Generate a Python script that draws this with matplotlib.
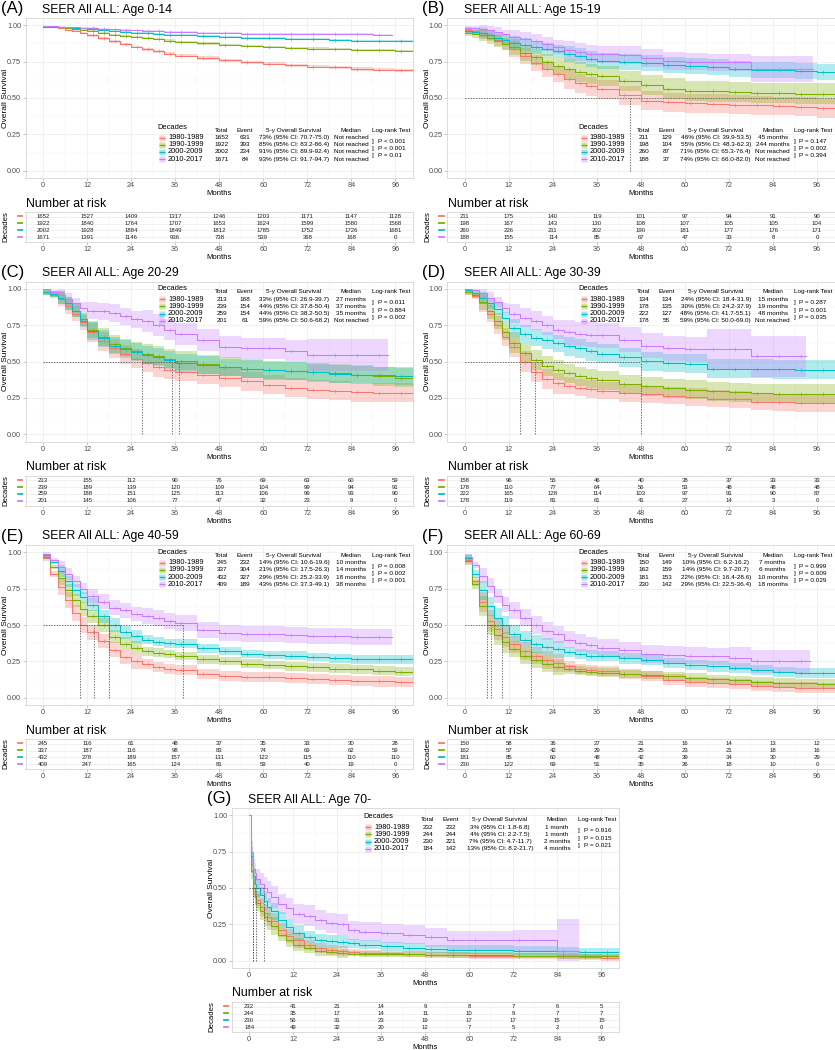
import numpy as np
import matplotlib
matplotlib.use("Agg")
import matplotlib.pyplot as plt
from matplotlib import transforms as mtrans

plt.rcParams['font.family'] = ['Liberation Sans', 'DejaVu Sans']

nan = float('nan')
DECADES = ["1980-1989", "1990-1999", "2000-2009", "2010-2017"]
COLORS = ["#F8766D", "#7CAE00", "#00BFC4", "#C77CFF"]
RISK_TIMES = [0, 12, 24, 36, 48, 60, 72, 84, 96]

T = [0, 2, 4, 6, 8, 10, 12, 15, 18, 21, 24, 27, 30, 33, 36, 42, 48, 54, 60, 66, 72, 78, 84, 90, 96, 101]
TG = [0, 0.5, 1, 1.5, 2, 3, 4, 5, 6, 8, 10, 12, 15, 18, 21, 24, 27, 30, 36, 42, 48, 54, 60, 72, 84, 90, 96, 101]

# ---------------- Panel A: Age 0-14 ----------------
A_s80 = [0.99, 0.985, 0.978, 0.97, 0.96, 0.945, 0.93, 0.91, 0.89, 0.87, 0.85, 0.835, 0.82, 0.805, 0.79, 0.775, 0.76, 0.745, 0.735, 0.725, 0.715, 0.71, 0.70, 0.695, 0.69, 0.685]
A_s90 = [0.99, 0.988, 0.985, 0.98, 0.975, 0.968, 0.96, 0.948, 0.935, 0.928, 0.92, 0.912, 0.905, 0.895, 0.885, 0.875, 0.865, 0.858, 0.85, 0.845, 0.84, 0.835, 0.83, 0.828, 0.825, 0.82]
A_s00 = [0.99, 0.989, 0.987, 0.985, 0.982, 0.978, 0.975, 0.968, 0.962, 0.956, 0.95, 0.945, 0.94, 0.935, 0.93, 0.925, 0.92, 0.915, 0.912, 0.908, 0.905, 0.90, 0.895, 0.892, 0.89, 0.888]
A_s10 = [0.995, 0.993, 0.99, 0.988, 0.985, 0.982, 0.98, 0.976, 0.972, 0.968, 0.965, 0.962, 0.96, 0.957, 0.955, 0.95, 0.945, 0.943, 0.942, 0.941, 0.94, 0.939, 0.937, 0.936, nan, nan]
A_c80 = [0.003] * 2 + [0.006] * 4 + [0.009] * 5 + [0.011] * 15
A_c90 = [0.003] * 2 + [0.005] * 4 + [0.007] * 5 + [0.008] * 15
A_c00 = [0.002] * 2 + [0.004] * 4 + [0.005] * 5 + [0.007] * 15
A_c10 = [0.002] * 2 + [0.003] * 4 + [0.005] * 5 + [0.007] * 15
A_end = [101, 101, 101, 95]
A_median = [nan, nan, nan, nan]
A_risk80 = [1652, 1527, 1409, 1317, 1246, 1203, 1171, 1147, 1128]
A_risk90 = [1922, 1840, 1764, 1707, 1653, 1624, 1599, 1580, 1568]
A_risk00 = [2002, 1928, 1884, 1849, 1812, 1785, 1752, 1726, 1681]
A_risk10 = [1671, 1391, 1146, 936, 738, 539, 368, 168, 0]
A_total = [1652, 1922, 2002, 1671]
A_event = [631, 393, 234, 84]
A_os5 = ["73% (95% CI: 70.7-75.0)", "85% (95% CI: 83.2-86.4)", "91% (95% CI: 89.9-92.4)", "93% (95% CI: 91.7-94.7)"]
A_medtxt = ["Not reached", "Not reached", "Not reached", "Not reached"]
A_p = ["P < 0.001", "P < 0.001", "P = 0.01"]

# ---------------- Panel B: Age 15-19 ----------------
B_s80 = [0.97, 0.96, 0.945, 0.93, 0.90, 0.87, 0.84, 0.79, 0.74, 0.70, 0.665, 0.63, 0.60, 0.58, 0.56, 0.52, 0.48, 0.47, 0.465, 0.46, 0.455, 0.45, 0.445, 0.44, 0.43, 0.42]
B_s90 = [0.95, 0.94, 0.93, 0.91, 0.89, 0.87, 0.85, 0.81, 0.78, 0.75, 0.72, 0.70, 0.68, 0.665, 0.65, 0.615, 0.59, 0.565, 0.55, 0.545, 0.54, 0.535, 0.535, 0.53, 0.53, 0.53]
B_s00 = [0.96, 0.955, 0.945, 0.93, 0.915, 0.90, 0.88, 0.865, 0.85, 0.835, 0.82, 0.805, 0.79, 0.77, 0.755, 0.75, 0.74, 0.725, 0.72, 0.71, 0.70, 0.695, 0.69, 0.685, 0.68, 0.675]
B_s10 = [0.98, 0.978, 0.975, 0.965, 0.955, 0.94, 0.92, 0.905, 0.89, 0.87, 0.85, 0.83, 0.815, 0.805, 0.80, 0.795, 0.775, 0.755, 0.75, 0.745, 0.745, 0.70, 0.70, 0.70, nan, nan]
B_c80 = [0.02] * 2 + [0.04] * 4 + [0.055] * 5 + [0.065] * 15
B_c90 = [0.025] * 2 + [0.04] * 4 + [0.055] * 5 + [0.07] * 15
B_c00 = [0.015] * 2 + [0.03] * 4 + [0.045] * 5 + [0.055] * 15
B_c10 = [0.015] * 2 + [0.03] * 4 + [0.05] * 5 + [0.06] * 10 + [0.09] * 5
B_end = [101, 101, 101, 95]
B_median = [45, 244, nan, nan]
B_risk80 = [211, 175, 140, 119, 101, 97, 94, 91, 90]
B_risk90 = [198, 167, 143, 130, 108, 107, 105, 105, 104]
B_risk00 = [260, 226, 211, 202, 190, 181, 177, 176, 171]
B_risk10 = [188, 155, 114, 85, 67, 47, 33, 8, 0]
B_total = [211, 198, 260, 188]
B_event = [129, 104, 87, 37]
B_os5 = ["46% (95% CI: 39.9-53.5)", "55% (95% CI: 48.3-62.3)", "71% (95% CI: 65.3-76.4)", "74% (95% CI: 66.0-82.0)"]
B_medtxt = ["45 months", "244 months", "Not reached", "Not reached"]
B_p = ["P = 0.147", "P = 0.002", "P = 0.394"]

# ---------------- Panel C: Age 20-29 ----------------
C_s80 = [0.98, 0.96, 0.93, 0.88, 0.83, 0.77, 0.70, 0.64, 0.59, 0.55, 0.52, 0.49, 0.46, 0.445, 0.43, 0.41, 0.39, 0.365, 0.34, 0.32, 0.307, 0.30, 0.29, 0.285, 0.285, 0.28]
C_s90 = [0.98, 0.965, 0.94, 0.90, 0.85, 0.79, 0.72, 0.67, 0.62, 0.595, 0.575, 0.555, 0.54, 0.52, 0.505, 0.48, 0.465, 0.45, 0.44, 0.435, 0.425, 0.42, 0.41, 0.40, 0.39, 0.38]
C_s00 = [0.98, 0.965, 0.94, 0.90, 0.85, 0.78, 0.71, 0.66, 0.61, 0.585, 0.565, 0.545, 0.53, 0.51, 0.49, 0.475, 0.46, 0.45, 0.44, 0.435, 0.425, 0.415, 0.41, 0.405, 0.40, 0.40]
C_s10 = [1.0, 0.98, 0.96, 0.93, 0.90, 0.87, 0.85, 0.845, 0.835, 0.81, 0.79, 0.78, 0.75, 0.72, 0.69, 0.65, 0.60, 0.59, 0.59, 0.575, 0.545, 0.545, 0.545, 0.545, nan, nan]
C_c80 = [0.02] * 2 + [0.05] * 4 + [0.065] * 20
C_c90 = [0.02] * 2 + [0.045] * 4 + [0.06] * 5 + [0.065] * 15
C_c00 = [0.02] * 2 + [0.045] * 4 + [0.06] * 20
C_c10 = [0.01] * 2 + [0.04] * 4 + [0.06] * 5 + [0.075] * 9 + [0.11] * 6
C_end = [101, 101, 101, 94]
C_median = [27, 37, 35, nan]
C_risk80 = [213, 155, 112, 90, 76, 69, 63, 60, 59]
C_risk90 = [239, 189, 139, 120, 109, 104, 99, 94, 91]
C_risk00 = [259, 188, 151, 125, 113, 106, 99, 93, 90]
C_risk10 = [201, 145, 106, 77, 47, 32, 23, 9, 0]
C_total = [213, 239, 259, 201]
C_event = [168, 154, 154, 61]
C_os5 = ["33% (95% CI: 26.9-39.7)", "44% (95% CI: 37.8-50.4)", "44% (95% CI: 38.2-50.5)", "59% (95% CI: 50.6-68.2)"]
C_medtxt = ["27 months", "37 months", "35 months", "Not reached"]
C_p = ["P = 0.011", "P = 0.884", "P = 0.002"]

# ---------------- Panel D: Age 30-39 ----------------
D_s80 = [0.98, 0.95, 0.90, 0.83, 0.75, 0.67, 0.60, 0.50, 0.43, 0.38, 0.35, 0.335, 0.32, 0.31, 0.30, 0.285, 0.275, 0.265, 0.255, 0.245, 0.24, 0.225, 0.22, 0.215, 0.215, 0.21]
D_s90 = [0.98, 0.955, 0.91, 0.85, 0.78, 0.70, 0.63, 0.56, 0.51, 0.47, 0.44, 0.42, 0.40, 0.385, 0.37, 0.345, 0.33, 0.315, 0.305, 0.295, 0.289, 0.282, 0.278, 0.277, 0.277, 0.275]
D_s00 = [0.99, 0.97, 0.94, 0.90, 0.86, 0.80, 0.73, 0.69, 0.665, 0.645, 0.625, 0.605, 0.59, 0.57, 0.555, 0.53, 0.503, 0.49, 0.485, 0.45, 0.45, 0.45, 0.447, 0.445, 0.443, 0.44]
D_s10 = [1.0, 0.99, 0.97, 0.94, 0.91, 0.87, 0.83, 0.80, 0.78, 0.75, 0.72, 0.70, 0.69, 0.685, 0.68, 0.65, 0.61, 0.59, 0.585, 0.585, 0.585, 0.535, 0.535, 0.535, nan, nan]
D_c80 = [0.02] * 2 + [0.06] * 4 + [0.07] * 5 + [0.06] * 15
D_c90 = [0.02] * 2 + [0.055] * 4 + [0.07] * 5 + [0.065] * 15
D_c00 = [0.015] * 2 + [0.04] * 4 + [0.06] * 5 + [0.065] * 15
D_c10 = [0.01] * 2 + [0.035] * 4 + [0.065] * 5 + [0.085] * 8 + [0.14] * 7
D_end = [101, 101, 101, 93]
D_median = [15, 19, 48, nan]
D_risk80 = [158, 96, 55, 46, 40, 38, 37, 33, 33]
D_risk90 = [178, 110, 77, 64, 56, 53, 48, 48, 48]
D_risk00 = [222, 165, 128, 114, 103, 97, 91, 90, 87]
D_risk10 = [178, 119, 81, 61, 41, 27, 14, 3, 0]
D_total = [134, 178, 222, 178]
D_event = [134, 135, 127, 55]
D_os5 = ["24% (95% CI: 18.4-31.9)", "30% (95% CI: 24.2-37.9)", "48% (95% CI: 41.7-55.1)", "59% (95% CI: 50.0-69.0)"]
D_medtxt = ["15 months", "19 months", "48 months", "Not reached"]
D_p = ["P = 0.287", "P = 0.001", "P = 0.035"]

# ---------------- Panel E: Age 40-59 ----------------
E_s80 = [0.96, 0.85, 0.76, 0.67, 0.58, 0.50, 0.45, 0.39, 0.33, 0.28, 0.25, 0.23, 0.21, 0.195, 0.188, 0.165, 0.15, 0.145, 0.142, 0.135, 0.127, 0.12, 0.115, 0.112, 0.108, 0.105]
E_s90 = [0.97, 0.90, 0.82, 0.74, 0.67, 0.61, 0.56, 0.50, 0.42, 0.37, 0.344, 0.32, 0.31, 0.30, 0.287, 0.265, 0.252, 0.235, 0.225, 0.215, 0.21, 0.20, 0.195, 0.185, 0.179, 0.172]
E_s00 = [0.98, 0.93, 0.87, 0.80, 0.74, 0.69, 0.64, 0.56, 0.50, 0.45, 0.424, 0.40, 0.385, 0.375, 0.372, 0.34, 0.321, 0.30, 0.294, 0.288, 0.28, 0.27, 0.264, 0.264, 0.264, 0.264]
E_s10 = [0.99, 0.95, 0.90, 0.85, 0.80, 0.75, 0.70, 0.66, 0.62, 0.60, 0.575, 0.56, 0.545, 0.525, 0.511, 0.465, 0.447, 0.44, 0.436, 0.43, 0.424, 0.422, 0.42, 0.42, nan, nan]
E_c80 = [0.02] * 2 + [0.055] * 4 + [0.05] * 5 + [0.035] * 15
E_c90 = [0.015] * 2 + [0.045] * 4 + [0.045] * 5 + [0.03] * 15
E_c00 = [0.01] * 2 + [0.04] * 4 + [0.045] * 5 + [0.03] * 15
E_c10 = [0.01] * 2 + [0.04] * 4 + [0.05] * 5 + [0.055] * 15
E_end = [101, 101, 101, 95]
E_median = [10, 14, 18, 38]
E_risk80 = [245, 116, 61, 48, 37, 35, 33, 30, 28]
E_risk90 = [337, 187, 116, 98, 83, 74, 69, 62, 59]
E_risk00 = [432, 278, 189, 157, 131, 122, 115, 110, 110]
E_risk10 = [409, 247, 165, 124, 81, 59, 40, 19, 0]
E_total = [245, 337, 432, 409]
E_event = [232, 304, 327, 189]
E_os5 = ["14% (95% CI: 10.6-19.6)", "21% (95% CI: 17.5-26.3)", "29% (95% CI: 25.2-33.9)", "43% (95% CI: 37.3-49.1)"]
E_medtxt = ["10 months", "14 months", "18 months", "38 months"]
E_p = ["P = 0.008", "P = 0.002", "P < 0.001"]

# ---------------- Panel F: Age 60-69 ----------------
F_s80 = [0.95, 0.80, 0.66, 0.53, 0.47, 0.42, 0.367, 0.32, 0.29, 0.26, 0.24, 0.215, 0.20, 0.19, 0.183, 0.165, 0.149, 0.125, 0.108, 0.10, 0.092, 0.082, 0.073, 0.07, 0.069, 0.068]
F_s90 = [0.94, 0.78, 0.63, 0.50, 0.43, 0.38, 0.333, 0.29, 0.26, 0.23, 0.211, 0.195, 0.185, 0.178, 0.172, 0.164, 0.156, 0.147, 0.138, 0.128, 0.119, 0.11, 0.103, 0.099, 0.096, 0.087]
F_s00 = [0.96, 0.85, 0.74, 0.63, 0.55, 0.50, 0.44, 0.40, 0.37, 0.35, 0.333, 0.315, 0.30, 0.29, 0.285, 0.27, 0.257, 0.24, 0.225, 0.215, 0.202, 0.19, 0.179, 0.172, 0.17, 0.17]
F_s10 = [0.97, 0.91, 0.84, 0.77, 0.70, 0.64, 0.60, 0.55, 0.50, 0.46, 0.436, 0.40, 0.375, 0.36, 0.345, 0.325, 0.30, 0.295, 0.29, 0.285, 0.27, 0.25, 0.25, 0.25, nan, nan]
F_c80 = [0.03] * 2 + [0.07] * 4 + [0.06] * 5 + [0.035] * 15
F_c90 = [0.03] * 2 + [0.07] * 4 + [0.055] * 5 + [0.03] * 15
F_c00 = [0.025] * 2 + [0.065] * 4 + [0.06] * 5 + [0.035] * 15
F_c10 = [0.02] * 2 + [0.05] * 4 + [0.06] * 5 + [0.06] * 9 + [0.08] * 6
F_end = [101, 101, 101, 94]
F_median = [7, 6, 10, 18]
F_risk80 = [150, 58, 36, 27, 21, 16, 14, 13, 12]
F_risk90 = [162, 57, 42, 29, 25, 23, 21, 18, 16]
F_risk00 = [181, 85, 60, 48, 42, 39, 34, 30, 29]
F_risk10 = [230, 122, 69, 51, 35, 26, 18, 10, 0]
F_total = [150, 162, 181, 230]
F_event = [149, 159, 153, 142]
F_os5 = ["10% (95% CI: 6.2-16.2)", "14% (95% CI: 9.7-20.7)", "22% (95% CI: 16.4-28.6)", "29% (95% CI: 22.5-36.4)"]
F_medtxt = ["7 months", "6 months", "10 months", "18 months"]
F_p = ["P = 0.999", "P = 0.009", "P = 0.029"]

# ---------------- Panel G: Age 70- ----------------
G_s80 = [1.0, 0.66, 0.50, 0.45, 0.42, 0.37, 0.33, 0.30, 0.27, 0.21, 0.17, 0.14, 0.11, 0.085, 0.075, 0.065, 0.06, 0.055, 0.05, 0.045, 0.04, 0.04, 0.035, 0.03, 0.03, 0.025, 0.02, 0.02]
G_s90 = [1.0, 0.62, 0.50, 0.44, 0.40, 0.34, 0.30, 0.27, 0.24, 0.18, 0.14, 0.11, 0.085, 0.065, 0.06, 0.05, 0.048, 0.046, 0.045, 0.043, 0.042, 0.04, 0.04, 0.035, 0.03, 0.03, 0.03, 0.03]
G_s00 = [1.0, 0.72, 0.58, 0.53, 0.50, 0.45, 0.41, 0.37, 0.34, 0.28, 0.23, 0.19, 0.16, 0.14, 0.135, 0.13, 0.12, 0.11, 0.10, 0.09, 0.08, 0.075, 0.075, 0.07, 0.065, 0.06, 0.06, 0.06]
G_s10 = [1.0, 0.75, 0.63, 0.60, 0.56, 0.53, 0.50, 0.47, 0.44, 0.39, 0.36, 0.32, 0.31, 0.28, 0.26, 0.25, 0.21, 0.20, 0.19, 0.18, 0.16, 0.14, 0.14, 0.14, 0.07, nan, nan, nan]
G_c80 = [0.0] + [0.06] * 8 + [0.05] * 3 + [0.035] * 4 + [0.02] * 12
G_c90 = [0.0] + [0.06] * 8 + [0.045] * 3 + [0.03] * 4 + [0.018] * 12
G_c00 = [0.0] + [0.06] * 8 + [0.055] * 3 + [0.045] * 4 + [0.03] * 12
G_c10 = [0.0] + [0.07] * 4 + [0.075] * 4 + [0.07] * 7 + [0.065] * 7 + [0.07] + [0.22] * 4
G_end = [101, 101, 101, 90]
G_median = [1, 1, 2, 4]
G_risk80 = [232, 41, 21, 14, 9, 8, 7, 6, 5]
G_risk90 = [244, 35, 17, 14, 11, 10, 9, 7, 7]
G_risk00 = [230, 56, 31, 23, 19, 17, 17, 15, 15]
G_risk10 = [184, 49, 32, 20, 12, 7, 5, 2, 0]
G_total = [232, 244, 230, 184]
G_event = [232, 244, 221, 142]
G_os5 = ["3% (95% CI: 1.8-6.8)", "4% (95% CI: 2.2-7.5)", "7% (95% CI: 4.7-11.7)", "13% (95% CI: 8.2-21.7)"]
G_medtxt = ["1 month", "1 month", "2 months", "4 months"]
G_p = ["P = 0.916", "P = 0.015", "P = 0.021"]

TITLES = ["SEER All ALL: Age 0-14", "SEER All ALL: Age 15-19", "SEER All ALL: Age 20-29",
          "SEER All ALL: Age 30-39", "SEER All ALL: Age 40-59", "SEER All ALL: Age 60-69",
          "SEER All ALL: Age 70-"]
LETTERS = ["(A)", "(B)", "(C)", "(D)", "(E)", "(F)", "(G)"]

# ---------------------------------------------------------------
W, H = 835, 1050
fig = plt.figure(figsize=(W / 100, H / 100), dpi=100)
fig.patch.set_facecolor('white')
AXW = 387.5
TICKC = '#4D4D4D'
XT_MIN = [6, 18, 30, 42, 54, 66, 78, 90]


def style(ax):
    for sp in ax.spines.values():
        sp.set_color('#D6D6D6')
        sp.set_linewidth(0.6)
    ax.tick_params(which='major', length=2, width=0.5, color='#B0B0B0',
                   labelsize=5.2, labelcolor=TICKC, pad=1.2)
    ax.tick_params(which='minor', length=0)
    ax.grid(which='major', color='#EBEBEB', lw=0.5)
    ax.grid(which='minor', color='#F5F5F5', lw=0.35)
    ax.set_axisbelow(True)


def otr(ax, dx, dy):
    base = mtrans.blended_transform_factory(ax.transAxes, ax.transData)
    return base + mtrans.ScaledTranslation(dx / 100, -dy / 100, fig.dpi_scale_trans)


def draw_panel(k, left, off, times, surv, ci, ends, medians, risk,
               totals, events, os5, medtxt, pvals, leg_y):
    ax = fig.add_axes([left / W, 1 - (off + 178) / H, AXW / W, 160 / H])
    ax.set_xlim(-4.8, 100.8)
    ax.set_ylim(-0.05, 1.05)
    style(ax)
    ax.set_yticks([0, 0.25, 0.5, 0.75, 1.0])
    ax.set_yticklabels(['0.00', '0.25', '0.50', '0.75', '1.00'])
    ax.set_yticks([0.125, 0.375, 0.625, 0.875], minor=True)
    ax.set_xticks(RISK_TIMES)
    ax.set_xticks(XT_MIN, minor=True)
    ax.set_xlabel('Months', fontsize=5.6, labelpad=0.5)
    fig.text((left - 20) / W, 1 - (off + 98) / H, 'Overall Survival', rotation=90,
             fontsize=6.0, ha='center', va='center')

    curves = []
    for s, c, e in zip(surv, ci, ends):
        keep = [(t, v, w) for t, v, w in zip(times, s, c) if t < e and v == v]
        tt = [q[0] for q in keep] + [e]
        vv = [q[1] for q in keep]
        vv = vv + [vv[-1]]
        cc = [q[2] for q in keep]
        cc = cc + [cc[-1]]
        curves.append((np.array(tt), np.array(vv), np.array(cc)))
    for (tt, vv, cc), col in zip(curves, COLORS):
        ax.fill_between(tt, np.clip(vv - cc, 0, 1), np.clip(vv + cc, 0, 1),
                        step='post', color=col, alpha=0.3, lw=0, zorder=1)
    for (tt, vv, cc), col in zip(curves, COLORS):
        ax.step(tt, vv, where='post', color=col, lw=0.75, zorder=2)
        sel = (tt >= 12) & (tt < tt[-1])
        ax.plot(tt[sel] + 1.5, vv[sel], ls='none', marker='+', ms=2.2, mew=0.4,
                color=col, zorder=2)

    fin = [m for m in medians if m == m]
    if fin:
        dl = dict(color='#555555', lw=0.6, ls=(0, (1.6, 1.6)), zorder=3)
        ax.plot([0, min(max(fin), 100.8)], [0.5, 0.5], **dl)
        for m in fin:
            if m <= 100.8:
                ax.plot([m, m], [0, 0.5], **dl)

    # legend block (anchored to the right edge of the panel)
    fs_t = 4.6
    ax.text(1, leg_y, 'Decades', transform=otr(ax, -256, 0), fontsize=5.4,
            ha='left', va='center')
    hdr = [('Total', -191), ('Event', -168), ('5-y Overall Survival', -119),
           ('Median', -62), ('Log-rank Test', -22)]
    for s, dx in hdr:
        ax.text(1, leg_y, s, transform=otr(ax, dx, 3), fontsize=fs_t,
                ha='center', va='center')
    for i in range(4):
        dy = 10.5 + 7.2 * i
        ax.plot([1], [leg_y], marker='s', ms=4.2, mfc=COLORS[i], mec='none',
                alpha=0.35, transform=otr(ax, -251, dy), clip_on=False)
        ax.plot([1], [leg_y], marker='_', ms=4.2, mew=0.9, color=COLORS[i],
                transform=otr(ax, -251, dy), clip_on=False)
        ax.text(1, leg_y, DECADES[i], transform=otr(ax, -245, dy), fontsize=5.3,
                ha='left', va='center')
        ax.text(1, leg_y, str(totals[i]), transform=otr(ax, -191, dy), fontsize=fs_t,
                ha='center', va='center')
        ax.text(1, leg_y, str(events[i]), transform=otr(ax, -168, dy), fontsize=fs_t,
                ha='center', va='center')
        ax.text(1, leg_y, os5[i], transform=otr(ax, -119, dy), fontsize=fs_t,
                ha='center', va='center')
        ax.text(1, leg_y, medtxt[i], transform=otr(ax, -62, dy), fontsize=fs_t,
                ha='center', va='center')
    for i in range(3):
        dy = 10.5 + 7.2 * (i + 0.5)
        ax.text(1, leg_y, ']', transform=otr(ax, -41, dy), fontsize=fs_t,
                ha='left', va='center')
        ax.text(1, leg_y, pvals[i], transform=otr(ax, -35.5, dy), fontsize=fs_t,
                ha='left', va='center')

    # letters & title
    fig.text((left - 25) / W, 1 - (off + 9) / H, LETTERS[k], fontsize=12,
             ha='left', va='center')
    fig.text((left + 16.5) / W, 1 - (off + 9.5) / H, TITLES[k], fontsize=8.8,
             ha='left', va='center')
    fig.text((left + 1) / W, 1 - (off + 203.5) / H, 'Number at risk', fontsize=8.8,
             ha='left', va='center')

    # risk table
    rax = fig.add_axes([left / W, 1 - (off + 242) / H, AXW / W, 30 / H])
    rax.set_xlim(-4.8, 100.8)
    rax.set_ylim(4.7, 0.3)
    style(rax)
    rax.set_xticks(RISK_TIMES)
    rax.set_xticks(XT_MIN, minor=True)
    rax.set_yticks([1, 2, 3, 4])
    rax.set_yticklabels([])
    rax.tick_params(axis='y', length=0)
    rax.set_xlabel('Months', fontsize=5.6, labelpad=0.5)
    for i, row in enumerate(risk):
        for t, v in zip(RISK_TIMES, row):
            rax.text(t, i + 1, str(v), ha='center', va='center', fontsize=4.3,
                     color='#222222')
        fig.lines.append(plt.Line2D([(left - 8) / W, (left - 3.5) / W],
                                    [1 - (off + 216 + 7 * i) / H] * 2,
                                    color=COLORS[i], lw=1.3,
                                    transform=fig.transFigure))
    fig.text((left - 19.5) / W, 1 - (off + 227) / H, 'Decades', rotation=90,
             fontsize=5.6, ha='center', va='center')


PANELS = [
    (0, 25.5, 0.0, T, [A_s80, A_s90, A_s00, A_s10], [A_c80, A_c90, A_c00, A_c10], A_end, A_median,
     [A_risk80, A_risk90, A_risk00, A_risk10], A_total, A_event, A_os5, A_medtxt, A_p, 0.30),
    (1, 447.2, 0.0, T, [B_s80, B_s90, B_s00, B_s10], [B_c80, B_c90, B_c00, B_c10], B_end, B_median,
     [B_risk80, B_risk90, B_risk00, B_risk10], B_total, B_event, B_os5, B_medtxt, B_p, 0.30),
    (2, 25.5, 263.5, T, [C_s80, C_s90, C_s00, C_s10], [C_c80, C_c90, C_c00, C_c10], C_end, C_median,
     [C_risk80, C_risk90, C_risk00, C_risk10], C_total, C_event, C_os5, C_medtxt, C_p, 1.0),
    (3, 447.2, 263.5, T, [D_s80, D_s90, D_s00, D_s10], [D_c80, D_c90, D_c00, D_c10], D_end, D_median,
     [D_risk80, D_risk90, D_risk00, D_risk10], D_total, D_event, D_os5, D_medtxt, D_p, 1.0),
    (4, 25.5, 527.0, T, [E_s80, E_s90, E_s00, E_s10], [E_c80, E_c90, E_c00, E_c10], E_end, E_median,
     [E_risk80, E_risk90, E_risk00, E_risk10], E_total, E_event, E_os5, E_medtxt, E_p, 1.0),
    (5, 447.2, 527.0, T, [F_s80, F_s90, F_s00, F_s10], [F_c80, F_c90, F_c00, F_c10], F_end, F_median,
     [F_risk80, F_risk90, F_risk00, F_risk10], F_total, F_event, F_os5, F_medtxt, F_p, 1.0),
    (6, 231.5, 790.0, TG, [G_s80, G_s90, G_s00, G_s10], [G_c80, G_c90, G_c00, G_c10], G_end, G_median,
     [G_risk80, G_risk90, G_risk00, G_risk10], G_total, G_event, G_os5, G_medtxt, G_p, 0.99),
]

for p in PANELS:
    draw_panel(*p)

fig.savefig('out.png', dpi=100, facecolor='white')
